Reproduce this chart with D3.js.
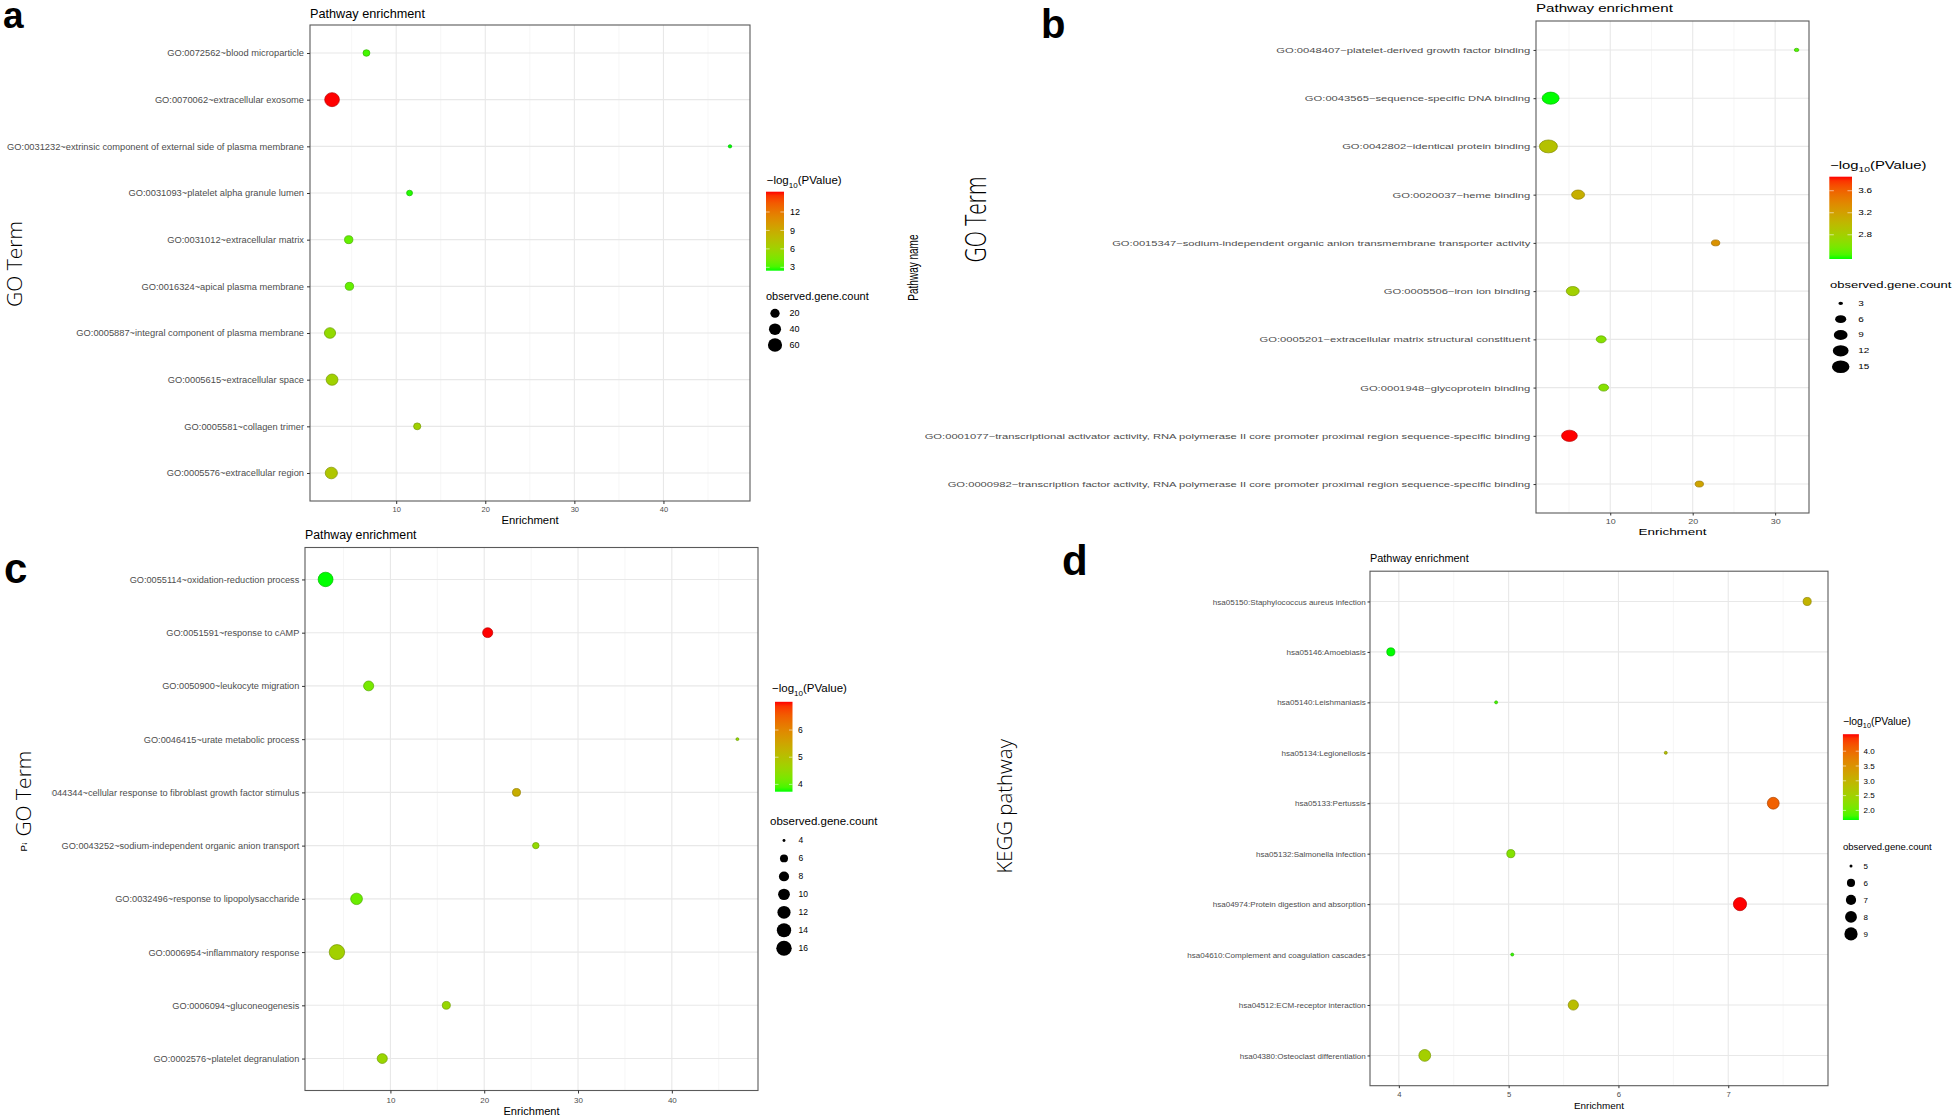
<!DOCTYPE html>
<html><head><meta charset="utf-8">
<script src="https://cdn.jsdelivr.net/npm/d3@7"></script>
<style>
html,body{margin:0;padding:0;background:#fff;}
svg{display:block;font-family:"Liberation Sans",Arial,Helvetica,sans-serif;}
</style></head><body>
<svg id="fig" width="1960" height="1120"></svg>
<script>
// ---------------- DATA ----------------
// Panel a (GO cellular component)
const aTerms = ["GO:0072562~blood microparticle","GO:0070062~extracellular exosome","GO:0031232~extrinsic component of external side of plasma membrane","GO:0031093~platelet alpha granule lumen","GO:0031012~extracellular matrix","GO:0016324~apical plasma membrane","GO:0005887~integral component of plasma membrane","GO:0005615~extracellular space","GO:0005581~collagen trimer","GO:0005576~extracellular region"];
const aEnrichment = [6.66, 2.80, 47.47, 11.5, 4.67, 4.75, 2.57, 2.80, 12.36, 2.72];
const aLogP = [3.0, 15.3, 2.45, 2.6, 3.7, 3.7, 5.4, 6.1, 6.1, 7.0];
const aCount = [9, 66, 3, 6, 15, 15, 33, 38, 10, 41];
const aXTicks = [10, 20, 30, 40];
const aColorTicks = [3, 6, 9, 12];
const aSizeTicks = [20, 40, 60];

// Panel b (GO molecular function)
const bTerms = ["GO:0048407~platelet-derived growth factor binding","GO:0043565~sequence-specific DNA binding","GO:0042802~identical protein binding","GO:0020037~heme binding","GO:0015347~sodium-independent organic anion transmembrane transporter activity","GO:0005506~iron ion binding","GO:0005201~extracellular matrix structural constituent","GO:0001948~glycoprotein binding","GO:0001077~transcriptional activator activity, RNA polymerase II core promoter proximal region sequence-specific binding","GO:0000982~transcription factor activity, RNA polymerase II core promoter proximal region sequence-specific binding"];
const bEnrichment = [32.6, 2.77, 2.5, 6.1, 22.78, 5.45, 8.9, 9.2, 5.05, 20.8];
const bLogP = [2.45, 2.36, 2.93, 3.08, 3.3, 2.8, 2.64, 2.64, 3.855, 3.17];
const bCount = [3, 14, 16, 8, 4, 8, 5, 5, 12, 4];
const bXTicks = [10, 20, 30];
const bColorTicks = [2.8, 3.2, 3.6];
const bSizeTicks = [3, 6, 9, 12, 15];

// Panel c (GO biological process)
const cTerms = ["GO:0055114~oxidation-reduction process","GO:0051591~response to cAMP","GO:0050900~leukocyte migration","GO:0046415~urate metabolic process","GO:0044344~cellular response to fibroblast growth factor stimulus","GO:0043252~sodium-independent organic anion transport","GO:0032496~response to lipopolysaccharide","GO:0006954~inflammatory response","GO:0006094~gluconeogenesis","GO:0002576~platelet degranulation"];
const cEnrichment = [3.09, 20.37, 7.68, 46.99, 23.44, 25.5, 6.39, 4.30, 15.96, 9.13];
const cLogP = [3.73, 7.04, 4.2, 4.5, 5.35, 4.5, 4.1, 4.7, 4.55, 4.58];
const cCount = [15, 8, 8, 4, 6, 5, 10, 16, 6, 8];
const cXTicks = [10, 20, 30, 40];
const cColorTicks = [4, 5, 6];
const cSizeTicks = [4, 6, 8, 10, 12, 14, 16];

// Panel d (KEGG pathway)
const dTerms = ["hsa05150:Staphylococcus aureus infection","hsa05146:Amoebiasis","hsa05140:Leishmaniasis","hsa05134:Legionellosis","hsa05133:Pertussis","hsa05132:Salmonella infection","hsa04974:Protein digestion and absorption","hsa04610:Complement and coagulation cascades","hsa04512:ECM-receptor interaction","hsa04380:Osteoclast differentiation"];
const dEnrichment = [7.719, 3.927, 4.886, 6.431, 7.41, 5.02, 7.107, 5.033, 5.589, 4.236];
const dLogP = [3.0, 1.676, 1.8, 2.8, 4.1, 2.2, 4.574, 1.76, 2.85, 2.55];
const dCount = [6, 6, 5, 5, 8, 6, 9, 5, 7, 8];
const dXTicks = [4, 5, 6, 7];
const dColorTicks = [2.0, 2.5, 3.0, 3.5, 4.0];
const dSizeTicks = [5, 6, 7, 8, 9];

// ---------------- DRAWING ----------------
const svg = d3.select('#fig');
const defs = svg.append('defs');
const LOW = '#00ff00', HIGH = '#ff0000';

function expand(ext) { const r = ext[1] - ext[0]; return [ext[0] - 0.05 * r, ext[1] + 0.05 * r]; }

function stText(g, x, y, str, o) {
  const sx = o.sx || 1;
  const t = g.append('text')
    .attr('transform', `translate(${x},${y}) scale(${sx},1)` + (o.rot ? ' rotate(-90)' : ''))
    .attr('font-size', o.fs)
    .attr('text-anchor', o.anchor || 'start')
    .attr('dy', o.dy === undefined ? '0.35em' : o.dy)
    .attr('fill', o.fill || '#000')
    .text(str);
  if (o.weight) t.attr('font-weight', o.weight);
  if (o.family) t.attr('font-family', o.family);
  return t;
}

function legendTitleP(g, x, y, fs, sx) {
  const t = g.append('text')
    .attr('transform', `translate(${x},${y}) scale(${sx},1)`)
    .attr('font-size', fs).attr('dy', '0.35em').attr('fill', '#000');
  t.append('tspan').text('\u2212log');
  t.append('tspan').attr('font-size', fs * 0.7).attr('dy', fs * 0.28).text('10');
  t.append('tspan').attr('dy', -fs * 0.28).text('(PValue)');
}

function drawPanel(P) {
  const g = svg.append('g');
  const sx = P.sx || 1, ar = P.ar || 1;
  const x = d3.scaleLinear().domain(expand(d3.extent(P.enr))).range([P.L, P.R]);
  const y = d3.scalePoint().domain(P.terms).range([P.T, P.B]).padding(0.6);
  const col = d3.scaleLinear().domain(d3.extent(P.logp)).range([LOW, HIGH]).interpolate(d3.interpolateLab);
  const norm = d3.scaleLinear().domain(d3.extent(P.cnt)).range([0, 1]).clamp(true);
  const rs = d3.scaleSqrt().domain([0, 1]).range([P.rmin, P.rmax]);
  const rad = v => rs(norm(v));

  // grid
  const dom = x.domain();
  const step = P.xTicks[1] - P.xTicks[0];
  const minors = [P.xTicks[0] - step / 2].concat(P.xTicks.map(t => t + step / 2)).filter(v => v > dom[0] && v < dom[1]);
  g.append('g').selectAll('line').data(minors).join('line')
    .attr('x1', d => x(d)).attr('x2', d => x(d)).attr('y1', P.T).attr('y2', P.B)
    .attr('stroke', '#f2f2f2').attr('stroke-width', 0.7);
  g.append('g').selectAll('line').data(P.xTicks).join('line')
    .attr('x1', d => x(d)).attr('x2', d => x(d)).attr('y1', P.T).attr('y2', P.B)
    .attr('stroke', '#e8e8e8').attr('stroke-width', 1.1);
  g.append('g').selectAll('line').data(P.terms).join('line')
    .attr('x1', P.L).attr('x2', P.R).attr('y1', d => y(d)).attr('y2', d => y(d))
    .attr('stroke', '#e8e8e8').attr('stroke-width', 1.1);

  // points
  const pts = P.terms.map((t, i) => ({ t, e: P.enr[i], p: P.logp[i], c: P.cnt[i] }));
  g.append('g').selectAll('ellipse').data(pts).join('ellipse')
    .attr('cx', d => x(d.e)).attr('cy', d => y(d.t))
    .attr('rx', d => rad(d.c) * ar).attr('ry', d => rad(d.c))
    .attr('fill', d => col(d.p))
    .attr('stroke', d => d3.color(col(d.p)).darker(0.9))
    .attr('stroke-width', 0.7);

  // border
  g.append('rect').attr('x', P.L).attr('y', P.T).attr('width', P.R - P.L).attr('height', P.B - P.T)
    .attr('fill', 'none').attr('stroke', '#5a5a5a').attr('stroke-width', 1.1);

  // y axis
  const ya = g.append('g').attr('transform', `translate(${P.L},0)`)
    .call(d3.axisLeft(y).tickSize(P.tick).tickPadding(P.pad));
  ya.select('.domain').remove();
  ya.selectAll('line').attr('stroke', '#333');
  ya.selectAll('text').attr('font-size', P.labelFs).attr('fill', '#4d4d4d')
    .attr('font-family', '"Liberation Sans",Arial,sans-serif')
    .attr('transform', `scale(${sx},1)`);

  // x axis
  const xa = g.append('g').attr('transform', `translate(0,${P.B})`)
    .call(d3.axisBottom(x).tickValues(P.xTicks).tickFormat(d3.format('d')).tickSize(P.tick).tickPadding(P.xpad));
  xa.select('.domain').remove();
  xa.selectAll('line').attr('stroke', '#333');
  xa.selectAll('text').attr('font-size', P.xTickFs).attr('fill', '#4d4d4d')
    .attr('font-family', '"Liberation Sans",Arial,sans-serif')
    .attr('transform', `scale(${sx},1)`);

  // titles
  stText(g, (P.L + P.R) / 2, P.xTitleY, 'Enrichment', { fs: P.xTitleFs, anchor: 'middle', sx });
  stText(g, P.L, P.titleY, 'Pathway enrichment', { fs: P.titleFs, sx });

  if (P.pathName) stText(g, P.pathName.x, P.pathName.y, 'Pathway name', { fs: P.pathName.fs, anchor: 'middle', rot: true, sx });
  if (P.mask) g.append('rect').attr('x', P.mask.x).attr('y', P.mask.y).attr('width', P.mask.w).attr('height', P.mask.h).attr('fill', '#fff');
  stText(g, P.yTitle.x, P.yTitle.y, P.yTitle.text, { fs: P.yTitle.fs, anchor: 'middle', rot: true, sx, family: '"Open Sans","Liberation Sans",sans-serif', weight: 300 });
  svg.append('text').attr('x', P.letter.x).attr('y', P.letter.y).attr('font-size', P.letter.fs)
    .attr('font-weight', 'bold').attr('font-family', '"Liberation Sans",Arial,sans-serif').text(P.letter.text);

  // colour bar legend
  const C = P.cbar;
  const gid = 'grad_' + P.letter.text;
  const gr = defs.append('linearGradient').attr('id', gid).attr('x1', 0).attr('y1', 1).attr('x2', 0).attr('y2', 0);
  d3.range(0, 1.0001, 0.05).forEach(t => gr.append('stop').attr('offset', t).attr('stop-color', d3.interpolateLab(LOW, HIGH)(t)));
  legendTitleP(g, C.titleX, C.titleY, C.titleFs, sx);
  g.append('rect').attr('x', C.x).attr('y', C.y0).attr('width', C.w).attr('height', C.y1 - C.y0).attr('fill', `url(#${gid})`);
  const cy = d3.scaleLinear().domain(d3.extent(P.logp)).range([C.y1, C.y0]);
  P.cTicks.forEach(v => {
    const yy = cy(v);
    g.append('line').attr('x1', C.x).attr('x2', C.x + C.w * 0.2).attr('y1', yy).attr('y2', yy).attr('stroke', '#fff').attr('stroke-opacity', 0.7).attr('stroke-width', 0.8);
    g.append('line').attr('x1', C.x + C.w * 0.8).attr('x2', C.x + C.w).attr('y1', yy).attr('y2', yy).attr('stroke', '#fff').attr('stroke-opacity', 0.7).attr('stroke-width', 0.8);
    stText(g, C.labelX, yy, d3.format(P.cFmt)(v), { fs: C.labelFs, sx });
  });

  // size legend
  const S = P.sleg;
  stText(g, S.titleX, S.titleY, 'observed.gene.count', { fs: S.titleFs, sx });
  P.sTicks.forEach((v, i) => {
    const yy = S.y0 + i * S.dy;
    g.append('ellipse').attr('cx', S.cx).attr('cy', yy).attr('rx', rad(v) * ar).attr('ry', rad(v)).attr('fill', '#000');
    stText(g, S.labelX, yy, String(v), { fs: S.labelFs, sx });
  });
}

drawPanel({
  terms: aTerms, enr: aEnrichment, logp: aLogP, cnt: aCount,
  xTicks: aXTicks, cTicks: aColorTicks, sTicks: aSizeTicks, cFmt: 'd',
  L: 310, R: 750, T: 25, B: 501, sx: 1, ar: 1.05, rmin: 1.65, rmax: 7.0,
  tick: 3, pad: 3, labelFs: 9.3, xTickFs: 7.5, xpad: 2.4, xTitleFs: 11.3, xTitleY: 520,
  titleFs: 12.7, titleY: 13.3,
  yTitle: { text: 'GO Term', x: 14.7, y: 264, fs: 21 },
  letter: { text: 'a', x: 3, y: 28, fs: 37 },
  cbar: { x: 766, w: 18, y0: 191.7, y1: 270.7, titleX: 766.7, titleY: 180.3, titleFs: 11.5, labelX: 790, labelFs: 9 },
  sleg: { titleX: 766, titleY: 296, titleFs: 11, y0: 313.3, dy: 15.85, cx: 775, labelX: 789.5, labelFs: 9 }
});

drawPanel({
  terms: bTerms, enr: bEnrichment, logp: bLogP, cnt: bCount,
  xTicks: bXTicks, cTicks: bColorTicks, sTicks: bSizeTicks, cFmt: '.1f',
  L: 1536, R: 1809, T: 21, B: 513, sx: 1.4, ar: 1.4, rmin: 1.65, rmax: 6.45,
  tick: 2.5, pad: 1.6, labelFs: 8, xTickFs: 6.4, xpad: 4, xTitleFs: 9.6, xTitleY: 532,
  titleFs: 10.8, titleY: 8.5,
  yTitle: { text: 'GO Term', x: 975.5, y: 219.5, fs: 21 },
  pathName: { x: 912.7, y: 267.6, fs: 10 },
  letter: { text: 'b', x: 1041, y: 38, fs: 40 },
  cbar: { x: 1829.3, w: 22.7, y0: 176.7, y1: 259, titleX: 1830, titleY: 165, titleFs: 10.6, labelX: 1858.3, labelFs: 7.1 },
  sleg: { titleX: 1830, titleY: 285, titleFs: 9.3, y0: 303.3, dy: 15.85, cx: 1840.7, labelX: 1858.3, labelFs: 7.1 }
});

drawPanel({
  terms: cTerms, enr: cEnrichment, logp: cLogP, cnt: cCount,
  xTicks: cXTicks, cTicks: cColorTicks, sTicks: cSizeTicks, cFmt: 'd',
  L: 305, R: 758, T: 547.5, B: 1090.5, sx: 1, ar: 1.03, rmin: 1.4, rmax: 7.5,
  tick: 3, pad: 2.7, labelFs: 9.2, xTickFs: 8, xpad: 3.5, xTitleFs: 11.1, xTitleY: 1111.3,
  titleFs: 12.3, titleY: 534.2,
  yTitle: { text: 'GO Term', x: 23.3, y: 793.6, fs: 21 },
  pathName: { x: 23.3, y: 819, fs: 9.8 },
  mask: { x: 0, y: 700, w: 51.7, h: 143 },
  letter: { text: 'c', x: 4, y: 583, fs: 42 },
  cbar: { x: 775, w: 17.5, y0: 701.8, y1: 791.7, titleX: 772, titleY: 688.4, titleFs: 11.5, labelX: 798, labelFs: 8.5 },
  sleg: { titleX: 770, titleY: 821, titleFs: 11.5, y0: 840.5, dy: 17.95, cx: 784, labelX: 798.5, labelFs: 8.5 }
});

drawPanel({
  terms: dTerms, enr: dEnrichment, logp: dLogP, cnt: dCount,
  xTicks: dXTicks, cTicks: dColorTicks, sTicks: dSizeTicks, cFmt: '.1f',
  L: 1370, R: 1828, T: 571.2, B: 1085.7, sx: 1, ar: 1, rmin: 1.5, rmax: 6.6,
  tick: 2.5, pad: 1.8, labelFs: 8.05, xTickFs: 7.7, xpad: 3.3, xTitleFs: 9.9, xTitleY: 1106,
  titleFs: 10.9, titleY: 557.8,
  yTitle: { text: 'KEGG pathway', x: 1005, y: 806.3, fs: 20.4 },
  letter: { text: 'd', x: 1062, y: 575, fs: 42 },
  cbar: { x: 1842.9, w: 16, y0: 734.2, y1: 820, titleX: 1842.9, titleY: 721.3, titleFs: 10.4, labelX: 1863.6, labelFs: 8 },
  sleg: { titleX: 1842.9, titleY: 846.7, titleFs: 9.5, y0: 865.9, dy: 17, cx: 1851, labelX: 1863.6, labelFs: 8 }
});
</script>
</body></html>
